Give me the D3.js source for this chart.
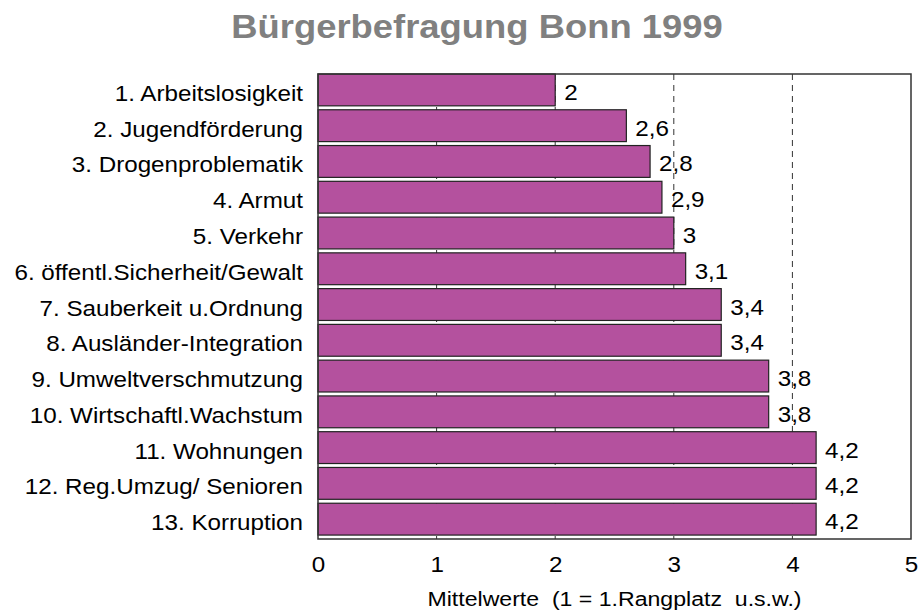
<!DOCTYPE html>
<html>
<head>
<meta charset="utf-8">
<script src="https://cdn.jsdelivr.net/npm/d3@7"></script>
<style>
  html, body { margin: 0; padding: 0; background: #fff; }
  svg { display: block; font-family: "Liberation Sans", Arial, sans-serif; }
</style>
</head>
<body>
<svg id="chart" width="918" height="612"></svg>
<script>
// Problemfelder der Bürgerbefragung, Mittelwerte der Rangplätze
const categories = [
  "1. Arbeitslosigkeit",
  "2. Jugendförderung",
  "3. Drogenproblematik",
  "4. Armut",
  "5. Verkehr",
  "6. öffentl.Sicherheit/Gewalt",
  "7. Sauberkeit u.Ordnung",
  "8. Ausländer-Integration",
  "9. Umweltverschmutzung",
  "10. Wirtschaftl.Wachstum",
  "11. Wohnungen",
  "12. Reg.Umzug/ Senioren",
  "13. Korruption"
];
const values = [2, 2.6, 2.8, 2.9, 3, 3.1, 3.4, 3.4, 3.8, 3.8, 4.2, 4.2, 4.2];
const xTicks = [0, 1, 2, 3, 4, 5];
const gridTicks = [1, 2, 3, 4];
const title = "Bürgerbefragung Bonn 1999";
const xTitle = "Mittelwerte  (1 = 1.Rangplatz  u.s.w.)";

const svg = d3.select("#chart");
const plot = { left: 318, right: 911, top: 74, bottom: 539 };
const stretch = 1.1;            // slightly widened lettering
const fmt = v => String(v).replace(".", ",");

const x = d3.scaleLinear().domain([0, 5]).range([plot.left, plot.right]);
const y = d3.scaleBand().domain(categories).range([plot.top, plot.bottom])
  .paddingInner(0.11).paddingOuter(0.055).align(0);

// Title
svg.append("text")
  .attr("transform", `translate(477,38) scale(1.12,1)`)
  .attr("text-anchor", "middle")
  .attr("font-size", 32.5).attr("font-weight", "bold")
  .attr("fill", "#808080")
  .text(title);

// Dashed vertical grid lines
svg.append("g").selectAll("line").data(gridTicks).join("line")
  .attr("x1", d => x(d)).attr("x2", d => x(d))
  .attr("y1", plot.top).attr("y2", plot.bottom)
  .attr("stroke", "#333").attr("stroke-width", 1)
  .attr("stroke-dasharray", "6,5");

// Bars
svg.append("g").selectAll("rect").data(values).join("rect")
  .attr("x", x(0))
  .attr("y", (d, i) => y(categories[i]))
  .attr("width", d => x(d) - x(0))
  .attr("height", y.bandwidth())
  .attr("fill", "#b4519e")
  .attr("stroke", "#222").attr("stroke-width", 1.2);

// Value labels
svg.append("g").selectAll("text").data(values).join("text")
  .attr("transform", (d, i) =>
    `translate(${x(d) + 9},${y(categories[i]) + y.bandwidth() / 2 + 10}) scale(${stretch},1)`)
  .attr("font-size", 22).attr("fill", "#000")
  .text(d => fmt(d));

// Plot frame
svg.append("rect")
  .attr("x", plot.left).attr("y", plot.top)
  .attr("width", plot.right - plot.left).attr("height", plot.bottom - plot.top)
  .attr("fill", "none").attr("stroke", "#333").attr("stroke-width", 1.5);

// Category labels
svg.append("g").selectAll("text").data(categories).join("text")
  .attr("transform", d => `translate(303,${y(d) + y.bandwidth() / 2 + 11}) scale(${stretch},1)`)
  .attr("text-anchor", "end")
  .attr("font-size", 22).attr("fill", "#000")
  .text(d => d);

// X axis tick labels
const xAxis = d3.axisBottom(x).tickValues(xTicks).tickSize(0).tickPadding(0).tickFormat(d => fmt(d));
const gx = svg.append("g").attr("transform", `translate(0,${plot.bottom})`).call(xAxis);
gx.select(".domain").remove();
gx.selectAll(".tick text")
  .attr("y", 0).attr("dy", null)
  .attr("transform", `translate(0,33) scale(${stretch},1)`)
  .attr("font-size", 22).attr("font-family", "Liberation Sans, Arial, sans-serif")
  .attr("fill", "#000");

// X axis title
svg.append("text")
  .attr("transform", `translate(${(plot.left + plot.right) / 2},606) scale(${stretch},1)`)
  .attr("text-anchor", "middle")
  .attr("font-size", 21).attr("fill", "#000")
  .style("white-space", "pre")
  .attr("xml:space", "preserve")
  .text(xTitle);
</script>
</body>
</html>
